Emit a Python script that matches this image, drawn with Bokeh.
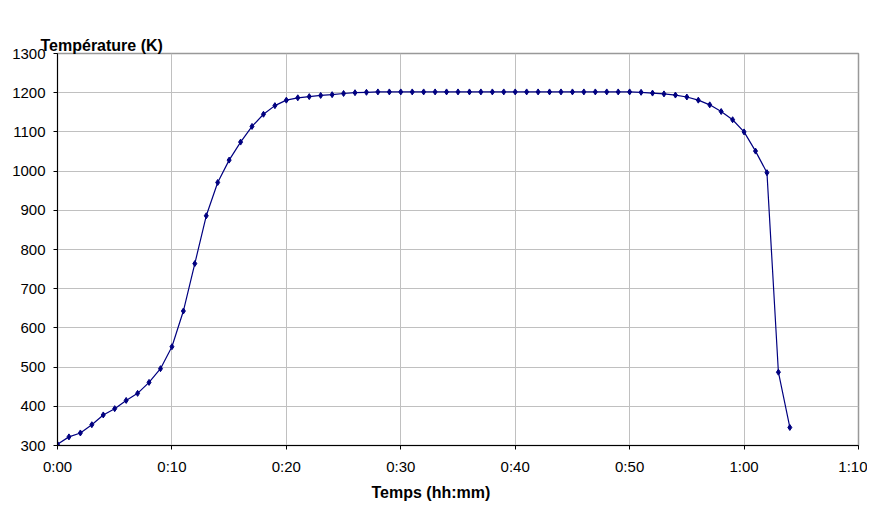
from bokeh.plotting import figure
from bokeh.models import FixedTicker, Range1d, Title, LinearAxis
from bokeh.embed import file_html
from bokeh.resources import INLINE

# Data: time in minutes, temperature in K
minutes = list(range(0, 65))
temperature = [
    303, 322, 332, 353, 378, 394, 415, 433, 461, 496,
    552, 643, 764, 886, 971, 1028, 1074, 1114, 1145, 1167,
    1181, 1187, 1190, 1193, 1195, 1198, 1200, 1201, 1202, 1202,
    1202, 1202, 1202, 1202, 1202, 1202, 1202, 1202, 1202, 1202,
    1202, 1202, 1202, 1202, 1202, 1202, 1202, 1202, 1202, 1202,
    1202, 1201, 1199, 1197, 1194, 1189, 1181, 1169, 1152, 1131,
    1100, 1051, 996, 487, 346,
]
x_ticks = [0, 10, 20, 30, 40, 50, 60, 70]
x_tick_labels = ["0:00", "0:10", "0:20", "0:30", "0:40", "0:50", "1:00", "1:10"]
y_ticks = list(range(300, 1301, 100))
y_title = "Température (K)"
x_title = "Temps (hh:mm)"

FONT = "Liberation Sans"

p = figure(width=867, height=505, output_backend="svg", toolbar_location=None,
           x_range=Range1d(0, 70), y_range=Range1d(300, 1300),
           min_border_left=57, min_border_right=9, min_border_top=53, min_border_bottom=60)

# keep references to the main axes before adding anything else
xa = p.xaxis[0]
ya = p.yaxis[0]

xa.ticker = FixedTicker(ticks=x_ticks)
xa.major_label_overrides = {tv: lab for tv, lab in zip(x_ticks, x_tick_labels)}
ya.ticker = FixedTicker(ticks=y_ticks)

for ax in (xa, ya):
    ax.axis_line_color = "black"
    ax.axis_line_width = 1
    ax.major_tick_line_color = "black"
    ax.major_tick_out = 4
    ax.major_tick_in = 0
    ax.minor_tick_line_color = None
    ax.major_label_text_font = FONT
    ax.major_label_text_font_size = "15px"
    ax.major_label_text_color = "black"
    ax.major_label_standoff = 8

# invisible spacer axis above the frame (no ticks at all), pushes the outermost title upward
spacer = LinearAxis(ticker=FixedTicker(ticks=[]), axis_line_color=None,
                    major_tick_line_color="white", minor_tick_line_color=None,
                    major_tick_out=24, major_tick_in=0, minor_tick_out=0, minor_tick_in=0,
                    major_label_standoff=0, major_label_text_font_size="1px")
p.add_layout(spacer, "above")

p.title.text = y_title
p.title.align = "left"
p.title.offset = -17
p.title.standoff = 0
p.title.text_font = FONT
p.title.text_font_size = "16px"
p.title.text_font_style = "bold"
p.title.text_color = "#000000"

xt = Title(text=x_title, align="left", offset=314, standoff=9,
           text_font=FONT, text_font_size="16px", text_font_style="bold", text_color="#000000")
p.add_layout(xt, "below")

p.background_fill_color = "white"
p.border_fill_color = "white"
p.outline_line_color = "#999999"
p.outline_line_width = 1.5

p.xgrid.grid_line_color = "#c0c0c0"
p.ygrid.grid_line_color = "#c0c0c0"
p.xgrid.grid_line_width = 1
p.ygrid.grid_line_width = 1

p.line(minutes, temperature, line_color="#000080", line_width=1.2)
p.scatter(minutes, temperature, marker="diamond", size=6, fill_color="#000080",
          line_color="#000080")

open("out.html", "w").write(file_html(p, INLINE))
